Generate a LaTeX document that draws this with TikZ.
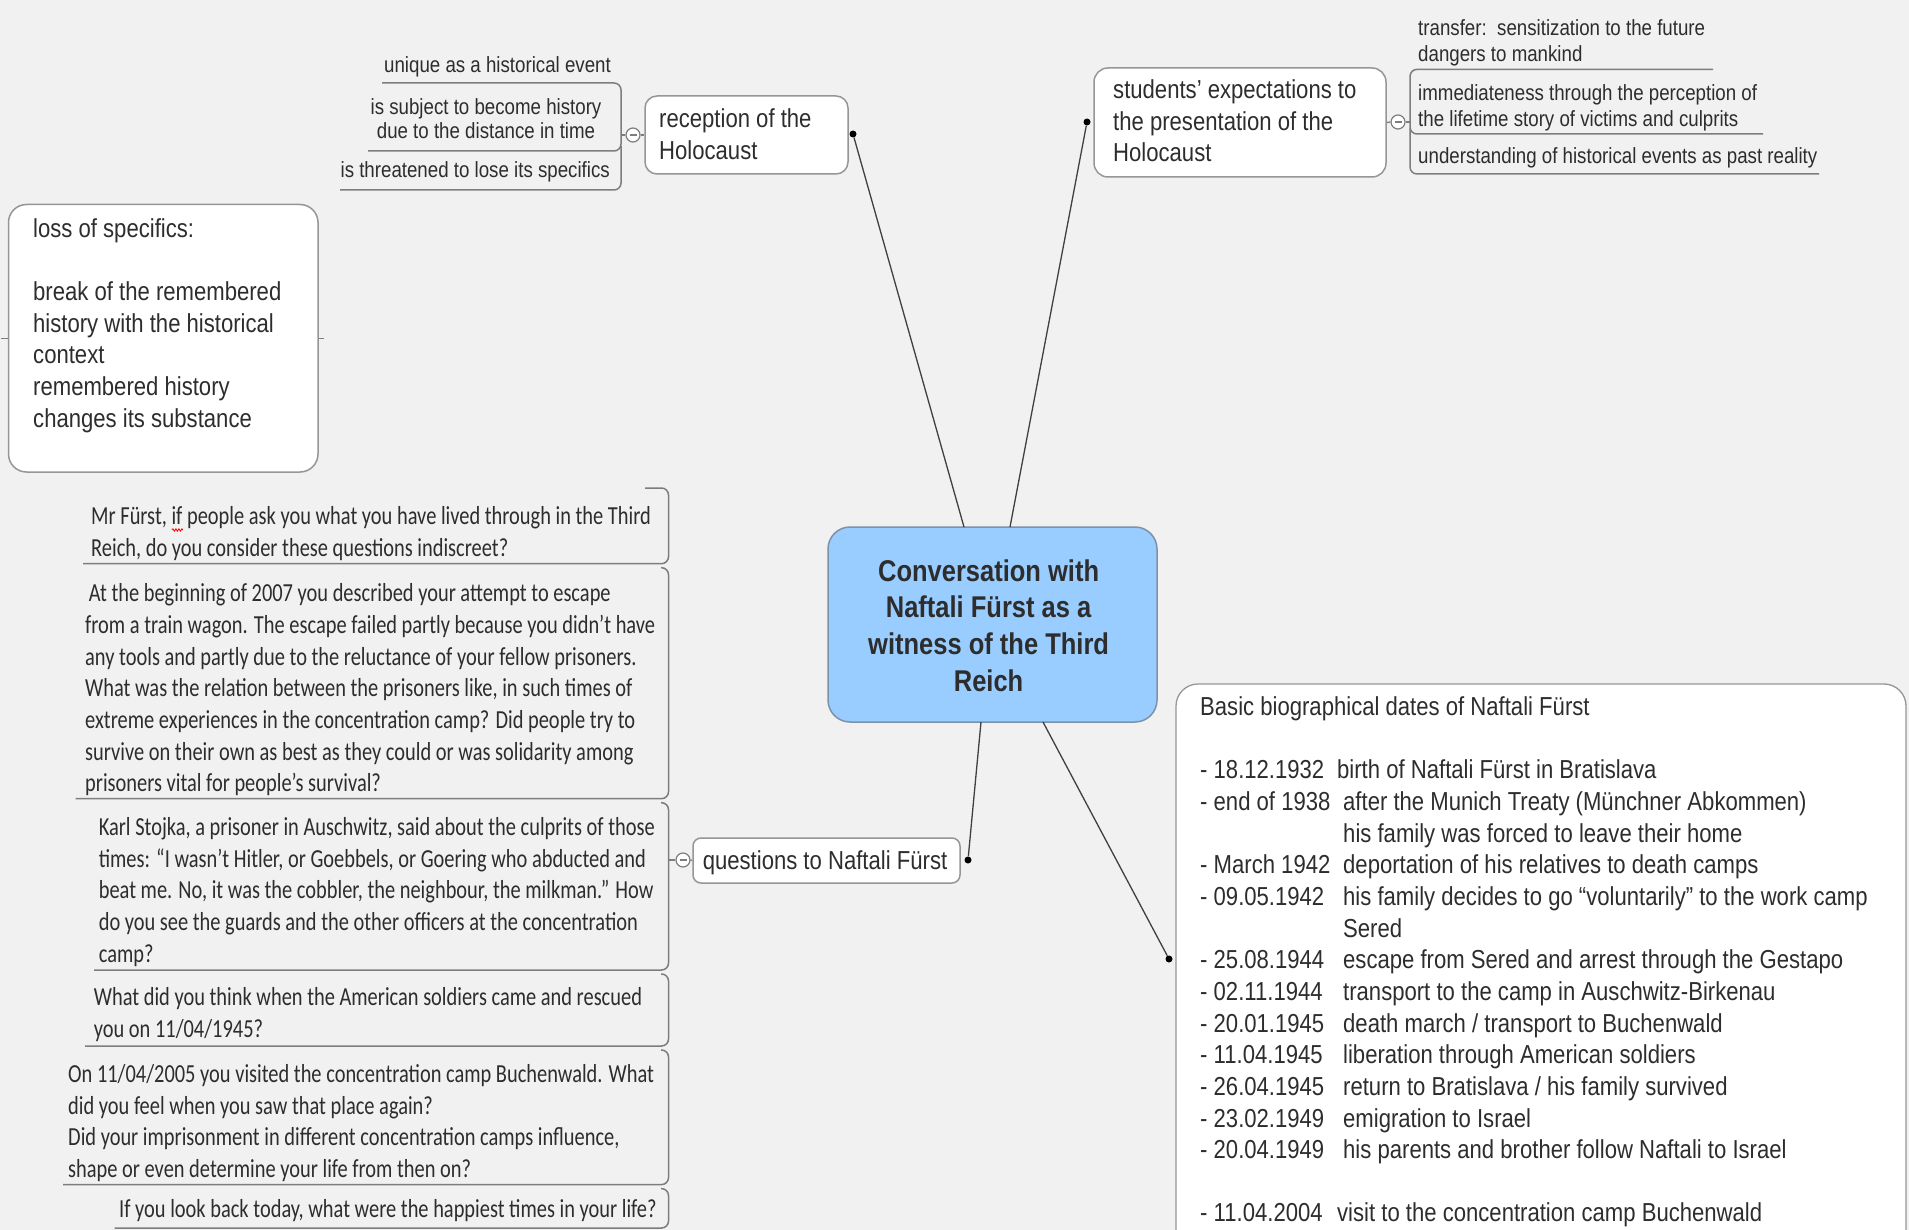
\documentclass[tikz,border=0pt]{standalone}
\usepackage{fontspec}
\setmainfont{Liberation Sans}[FakeStretch=0.85]
\newfontfamily\qfont{Carlito}[FakeStretch=0.785]
\usetikzlibrary{decorations.pathmorphing}
\definecolor{bg}{RGB}{241,241,241}
\definecolor{txt}{RGB}{45,45,45}
\definecolor{bord}{RGB}{150,150,150}
\definecolor{lin}{RGB}{125,125,125}
\definecolor{cfill}{RGB}{153,204,255}
\definecolor{cbord}{RGB}{125,145,170}
\newcommand{\bioA}[1]{\makebox[137pt][l]{#1}}
\newcommand{\bioB}[1]{\makebox[143pt][l]{#1}}
\begin{document}
\begin{tikzpicture}[x=1pt,y=-1pt,
  box/.style={draw=bord, line width=1.5pt, fill=white},
  tx/.style={inner sep=0pt, text=txt},
  mainf/.style={font=\fontsize{26}{31.65}\selectfont},
  leaff/.style={font=\fontsize{22}{24.4}\selectfont},
  rleaff/.style={font=\fontsize{22}{26}\selectfont},
  qf/.style={font=\qfont\fontsize{26}{31.65}\selectfont},
  ulin/.style={draw=lin, line width=1.5pt, rounded corners=7pt},
  conn/.style={draw=black!75, line width=1.3pt},
  dotn/.style={circle, fill=black, inner sep=0pt, minimum size=7pt},
  tog/.style={circle, draw=lin, fill=white, line width=1.2pt, inner sep=0pt, minimum size=14pt}
]
\useasboundingbox (0,0) rectangle (1909,1230);
\clip (0,0) rectangle (1909,1230);
\fill[bg] (0,0) rectangle (1909,1230);

% ---------- central ----------
\node[draw=cbord, line width=1.5pt, fill=cfill, rounded corners=22pt,
      minimum width=329pt, minimum height=195pt] (c) at (992.5,624.5) {};
\node[tx, anchor=north, font=\bfseries\fontsize{30}{36.9}\selectfont] (ct) at (988.6,555)
  {\begin{tabular}{@{}c@{}}Conversation with\\Naftali Fürst as a\\witness of the Third\\Reich\end{tabular}};
\coordinate (c1) at (964,527);
\coordinate (c2) at (1010,527);
\coordinate (c3) at (981,722);
\coordinate (c4) at (1043,722);

% ---------- reception ----------
\node[box, rounded corners=12pt, minimum width=203pt, minimum height=78pt] (rec) at (746.5,135) {};
\node[tx, mainf, anchor=north west] (rect) at (659,105.2)
  {\begin{tabular}{@{}l@{}}reception of the\\Holocaust\end{tabular}};
\node[dotn] (dr) at (853,134) {};
\draw[conn] (c1) -- (dr);
\node[tog] (tr) at (633,135) {\textcolor{lin}{\rule{7pt}{1.3pt}}};
\coordinate (br) at (621,135);
\draw[draw=lin, line width=1.3pt] (br) -- (tr.west);
\draw[draw=lin, line width=1.3pt] (tr.east) -- (rec.west);
\node[tx, leaff, anchor=north east] (l1) at (611,56.5) {unique as a historical event};
\node[tx, leaff, anchor=north] (l2) at (486,96.8)
  {\begin{tabular}{@{}c@{}}is subject to become history\\due to the distance in time\end{tabular}};
\node[tx, leaff, anchor=north east] (l3) at (610,161.3) {is threatened to lose its specifics};
\draw[ulin] (382,83) -| (621,151) -- (368,151);
\draw[ulin] (621,146) |- (340,190);

% ---------- students ----------
\node[box, rounded corners=14pt, minimum width=292pt, minimum height=109pt] (st) at (1240,122.5) {};
\node[tx, mainf, anchor=north west] (stt) at (1113,76.2)
  {\begin{tabular}{@{}l@{}}students’ expectations to\\the presentation of the\\Holocaust\end{tabular}};
\node[dotn] (ds) at (1087,122) {};
\draw[conn] (c2) -- (ds);
\node[tog] (ts) at (1398,122) {\textcolor{lin}{\rule{7pt}{1.3pt}}};
\coordinate (bs) at (1410,122);
\draw[draw=lin, line width=1.3pt] (st.east) -- (ts.west);
\draw[draw=lin, line width=1.3pt] (ts.east) -- (bs);
\node[tx, rleaff, anchor=north west] (r1) at (1418,16.7)
  {\begin{tabular}{@{}l@{}}transfer:\ \ sensitization to the future\\dangers to mankind\end{tabular}};
\node[tx, rleaff, anchor=north west] (r2) at (1418,82.2)
  {\begin{tabular}{@{}l@{}}immediateness through the perception of\\the lifetime story of victims and culprits\end{tabular}};
\node[tx, rleaff, anchor=north west] (r3) at (1418,147.7) {understanding of historical events as past reality};
\draw[ulin] (1713,69.4) -| (1410,134) -- (1763,134);
\draw[ulin] (1410,128) |- (1819,174);

% ---------- loss of specifics ----------
\node[box, rounded corners=18pt, minimum width=309.5pt, minimum height=267.5pt] (loss) at (163.25,338.25) {};
\node[tx, mainf, anchor=north west] (losst) at (33,214.9)
  {\begin{tabular}{@{}l@{}}loss of specifics:\\ \\break of the remembered\\history with the historical\\context\\remembered history\\changes its substance\end{tabular}};
\draw[draw=lin, line width=1pt] (loss.west) -- ++(-7,0);
\draw[draw=lin, line width=1pt] (loss.east) -- ++(5,0);

% ---------- questions ----------
\node[box, rounded corners=8pt, minimum width=267pt, minimum height=45pt] (q) at (826.5,860.5) {};
\node[tx, mainf, anchor=base] (qt) at (825,869.4) {questions to Naftali Fürst};
\node[dotn] (dq) at (968,860) {};
\draw[conn] (c3) -- (dq);
\node[tog] (tq) at (683,860) {\textcolor{lin}{\rule{7pt}{1.3pt}}};
\coordinate (bq) at (668.5,860);
\draw[draw=lin, line width=1.3pt] (bq) -- (tq.west);
\draw[draw=lin, line width=1.3pt] (tq.east) -- (q.west);

\node[tx, qf, anchor=north west] (q1) at (91,502.6)
  {\begin{tabular}{@{}l@{}}Mr Fürst, if people ask you what you have lived through in the Third\\Reich, do you consider these questions indiscreet?\end{tabular}};
\draw[red, line width=0.8pt, decorate, decoration={snake, amplitude=1.2pt, segment length=3pt}] (172,530) -- (183,530);
\node[tx, qf, anchor=north west] (q2) at (85,579.4)
  {\begin{tabular}{@{}l@{}}\hspace*{3.6pt}At the beginning of 2007 you described your attempt to escape\\from a train wagon. The escape failed partly because you didn’t have\\any tools and partly due to the reluctance of your fellow prisoners.\\What was the relation between the prisoners like, in such times of\\extreme experiences in the concentration camp? Did people try to\\survive on their own as best as they could or was solidarity among\\prisoners vital for people’s survival?\end{tabular}};
\node[tx, qf, anchor=north west] (q3) at (98.6,813.1)
  {\begin{tabular}{@{}l@{}}Karl Stojka, a prisoner in Auschwitz, said about the culprits of those\\times: “I wasn’t Hitler, or Goebbels, or Goering who abducted and\\beat me. No, it was the cobbler, the neighbour, the milkman.” How\\do you see the guards and the other officers at the concentration\\camp?\end{tabular}};
\node[tx, qf, anchor=north west] (q4) at (93.7,983.4)
  {\begin{tabular}{@{}l@{}}What did you think when the American soldiers came and rescued\\you on 11/04/1945?\end{tabular}};
\node[tx, qf, anchor=north west] (q5) at (68,1060.2)
  {\begin{tabular}{@{}l@{}}On 11/04/2005 you visited the concentration camp Buchenwald. What\\did you feel when you saw that place again?\\Did your imprisonment in different concentration camps influence,\\shape or even determine your life from then on?\end{tabular}};
\node[tx, qf, anchor=north west] (q6) at (119,1199)
  {If you look back today, what were the happiest times in your life?};
\draw[ulin] (645,488) -| (668.5,563.7) -- (83,563.7);
\draw[ulin] (661,567.7) -| (668.5,798.7) -- (75.5,798.7);
\draw[ulin] (661,802.7) -| (668.5,970) -- (94,970);
\draw[ulin] (661,974) -| (668.5,1046) -- (85,1046);
\draw[ulin] (661,1050) -| (668.5,1184.6) -- (63,1184.6);
\draw[ulin] (661,1188.6) -| (668.5,1228) -- (114.5,1228);

% ---------- dates ----------
\node[box, line width=1.3pt, rounded corners=22pt, minimum width=730pt, minimum height=576pt] (bio) at (1541,972) {};
\node[dotn] (dd) at (1169,959) {};
\draw[conn] (c4) -- (dd);
\node[tx, mainf, anchor=north west] (biot) at (1200,693.2)
  {\begin{tabular}{@{}l@{}}
  Basic biographical dates of Naftali Fürst\\
  \\
  \bioA{- 18.12.1932}birth of Naftali Fürst in Bratislava\\
  \bioB{- end of 1938}after the Munich Treaty (Münchner Abkommen)\\
  \bioB{}his family was forced to leave their home\\
  \bioB{- March 1942}deportation of his relatives to death camps\\
  \bioB{- 09.05.1942}his family decides to go “voluntarily” to the work camp\\
  \bioB{}Sered\\
  \bioB{- 25.08.1944}escape from Sered and arrest through the Gestapo\\
  \bioB{- 02.11.1944}transport to the camp in Auschwitz-Birkenau\\
  \bioB{- 20.01.1945}death march / transport to Buchenwald\\
  \bioB{- 11.04.1945}liberation through American soldiers\\
  \bioB{- 26.04.1945}return to Bratislava / his family survived\\
  \bioB{- 23.02.1949}emigration to Israel\\
  \bioB{- 20.04.1949}his parents and brother follow Naftali to Israel\\
  \\
  \bioA{- 11.04.2004}visit to the concentration camp Buchenwald
  \end{tabular}};
\end{tikzpicture}
\end{document}
